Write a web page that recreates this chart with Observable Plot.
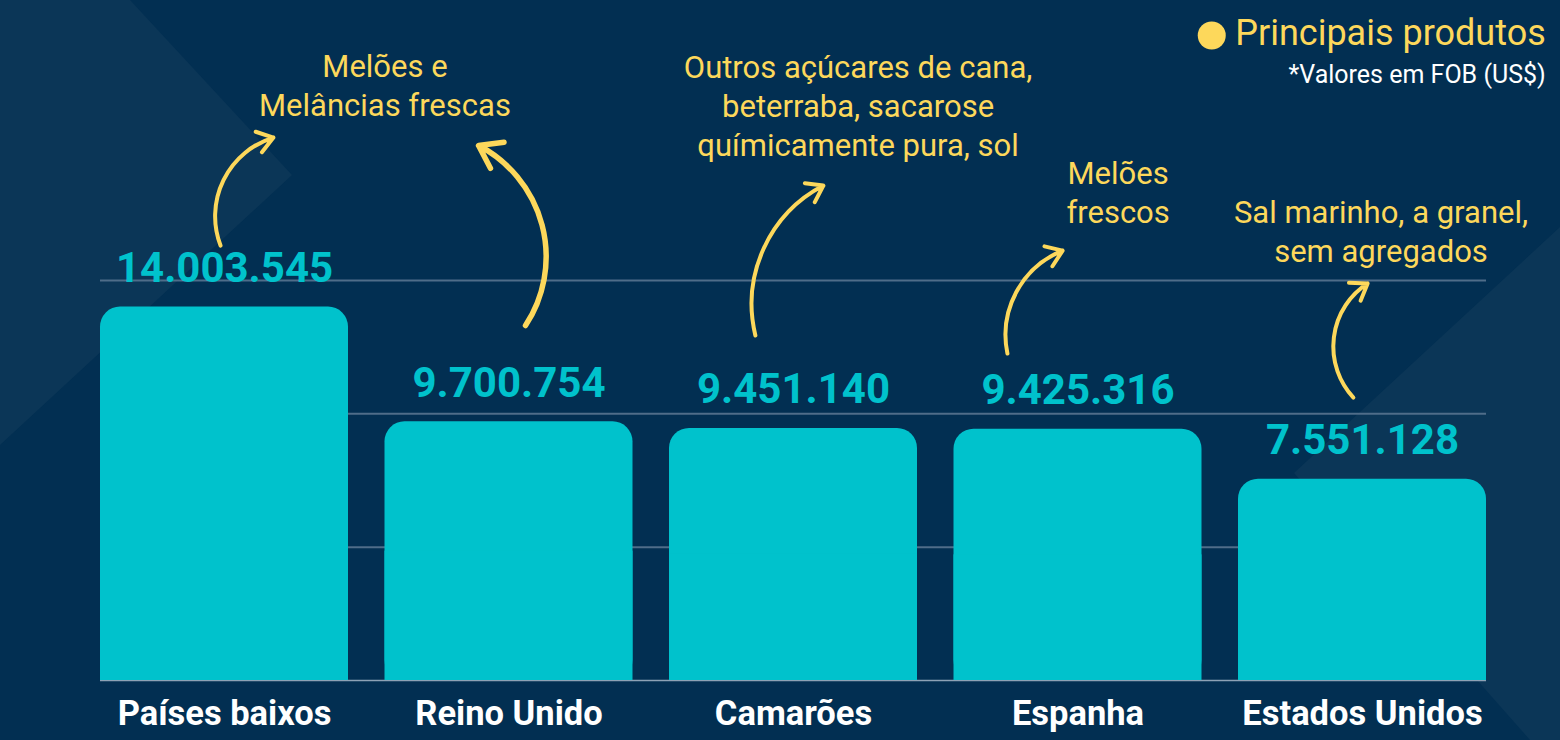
<!DOCTYPE html>
<html>
<head>
<meta charset="utf-8">
<script src="https://cdn.jsdelivr.net/npm/d3@7"></script>
<script src="https://cdn.jsdelivr.net/npm/@observablehq/plot@0.6"></script>
<style>
html, body { margin: 0; padding: 0; background: #022f52; width: 1560px; height: 740px; overflow: hidden; }
#wrap { position: relative; width: 1560px; height: 740px; }
.shape { position: absolute; left: 0; top: 0; width: 1560px; height: 740px; background: #0b3657; }
#s1 { clip-path: polygon(0 0, 130px 0, 292px 175px, 0 445px); }
#s2 { clip-path: polygon(1560px 227px, 1294px 473px, 1530px 740px, 1560px 740px); }
#chart { position: absolute; left: 0; top: 0; }
</style>
</head>
<body>
<div id="wrap">
  <div class="shape" id="s1"></div>
  <div class="shape" id="s2"></div>
  <div id="chart"></div>
</div>
<script>
// ---- data ----
const countries = ["Países baixos", "Reino Unido", "Camarões", "Espanha", "Estados Unidos"];
const values = [14003545, 9700754, 9451140, 9425316, 7551128];
const gridValues = [5000000, 10000000, 15000000];
const products = [
  "Melões e\nMelâncias frescas",
  "Outros açúcares de cana,\nbeterraba, sacarose\nquímicamente pura, sol",
  "Melões\nfrescos",
  "Sal marinho, a granel,\nsem agregados"
];
const legendTitle = "Principais produtos";
const legendNote = "*Valores em FOB (US$)";

// ---- annotation layout (data units: x = country index, y = US$) ----
const noteLayout = [
  {x: 0.564, y: 22380000},
  {x: 2.227, y: 21600000},
  {x: 3.141, y: 18370000},
  {x: 4.065, y: 16890000}
];
const arrowLayout = [
  {x1: -0.014, y1: 16310000, x2: 0.172, y2: 20360000, bend: 47, w: 4},
  {x1: 1.058, y1: 13310000, x2: 0.893, y2: 20060000, bend: -48, w: 5.5},
  {x1: 1.866, y1: 12940000, x2: 2.105, y2: 18560000, bend: 38, w: 4},
  {x1: 2.752, y1: 12260000, x2: 2.946, y2: 16120000, bend: 40, w: 4},
  {x1: 3.968, y1: 10610000, x2: 4.018, y2: 14890000, bend: 50, w: 4}
];

const table = countries.map((c, i) => ({i, country: c, value: values[i]}));
const notes = products.map((p, k) => ({text: p, ...noteLayout[k]}));

const TEAL = "#00c2cc";
const YELLOW = "#fdd85b";
const FONT = "Roboto, 'Noto Sans', sans-serif";
const fmt = v => d3.format(",")(v).replace(/,/g, ".");
const inset = 18.25;

const marks = [
  Plot.ruleY(gridValues, {stroke: "#4f6d89", strokeWidth: 2, insetLeft: inset, insetRight: inset}),
  Plot.ruleY([0], {stroke: "#8da2b6", strokeWidth: 1.5, insetLeft: inset, insetRight: inset}),
  Plot.rectY(table, {x1: d => d.i - 0.5, x2: d => d.i + 0.5, y1: 0, y2: "value", insetLeft: inset, insetRight: inset, rx: 20, fill: TEAL}),
  Plot.rectY(table, {x1: d => d.i - 0.5, x2: d => d.i + 0.5, y1: 0, y2: d => d.value / 2, insetLeft: inset, insetRight: inset, fill: TEAL}),
  Plot.text(table, {x: "i", y: "value", text: d => fmt(d.value), fill: TEAL, fontSize: 42, fontWeight: 700, lineAnchor: "bottom", dy: -25, fontFamily: FONT}),
  Plot.text(table, {x: "i", y: 0, text: "country", fill: "white", fontSize: 34.5, fontWeight: 700, lineAnchor: "middle", dy: 33, fontFamily: FONT}),
  Plot.text(notes, {x: "x", y: "y", text: "text", fill: YELLOW, fontSize: 31, lineHeight: 1.26, lineAnchor: "middle", fontFamily: FONT}),
  ...arrowLayout.map(a => Plot.arrow([a], {x1: "x1", y1: "y1", x2: "x2", y2: "y2", bend: a.bend, stroke: YELLOW, strokeWidth: a.w, headLength: 7, headAngle: 70, strokeLinecap: "round"})),
  Plot.dot([legendTitle], {frameAnchor: "top-right", dx: -293, dy: 35, r: 14, fill: YELLOW}),
  Plot.text([legendTitle], {frameAnchor: "top-right", text: d => d, dx: 41, dy: 33, textAnchor: "end", lineAnchor: "middle", fill: YELLOW, fontSize: 36, fontFamily: FONT}),
  Plot.text([legendNote], {frameAnchor: "top-right", text: d => d, dx: 41, dy: 74, textAnchor: "end", lineAnchor: "middle", fill: "white", fontSize: 25, fontFamily: FONT})
];

const chart = Plot.plot({
  width: 1560,
  height: 740,
  marginLeft: 81.75,
  marginRight: 55.75,
  marginTop: 0,
  marginBottom: 60,
  x: {domain: [-0.5, 4.5], axis: null},
  y: {domain: [0, 25500000], axis: null},
  style: {background: "transparent", overflow: "visible", fontFamily: FONT},
  marks
});
document.getElementById("chart").appendChild(chart);
</script>
</body>
</html>
